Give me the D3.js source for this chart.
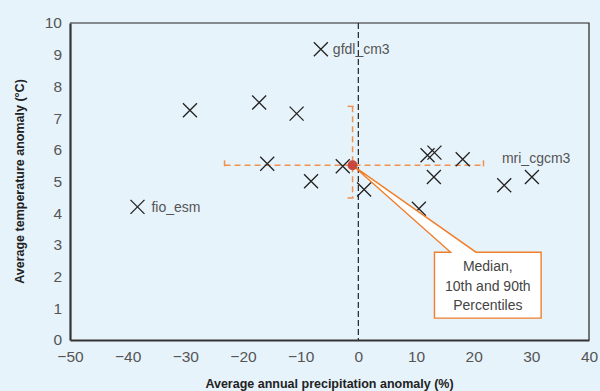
<!DOCTYPE html>
<html>
<head>
<meta charset="utf-8">
<script src="https://cdn.jsdelivr.net/npm/d3@7"></script>
<style>
  html, body { margin: 0; padding: 0; background: #e7f3fb; }
  svg { display: block; font-family: "Liberation Sans", Arial, sans-serif; }
</style>
</head>
<body>
<div id="chart"></div>
<script>
// model results: precipitation anomaly (%) and temperature anomaly (°C)
const precip = [-38.3, -29.2, -17.2, -10.7, -15.8, -8.2, -2.7, 1.0, -6.5, 12.0, 13.2, 13.1, 18.1, 10.5, 25.3, 30.1];
const temp   = [4.20, 7.25, 7.49, 7.14, 5.56, 5.01, 5.48, 4.75, 9.17, 5.83, 5.91, 5.14, 5.70, 4.14, 4.88, 5.14];
const names  = ['fio_esm', '', '', '', '', '', '', '', 'gfdl_cm3', '', '', '', '', '', '', 'mri_cgcm3'];

const median = { precip: -1.0, temp: 5.51 };
const precipRange = [-23.2, 21.7];   // 10th and 90th percentiles
const tempRange = [4.48, 7.37];

const xTicks = [-50, -40, -30, -20, -10, 0, 10, 20, 30, 40];
const yTicks = [0, 1, 2, 3, 4, 5, 6, 7, 8, 9, 10];
const calloutLines = ['Median,', '10th and 90th', 'Percentiles'];

const width = 600;
const height = 391;
const margin = { top: 23, right: 11, bottom: 51, left: 70 };

const points = precip.map((p, i) => ({ precip: p, temp: temp[i], name: names[i] }));

const x = d3.scaleLinear().domain([-50, 40]).range([margin.left, width - margin.right]);
const y = d3.scaleLinear().domain([0, 10]).range([height - margin.bottom, margin.top]);

const svg = d3.select('#chart')
    .append('svg')
    .attr('width', width)
    .attr('height', height);

svg.append('rect')
    .attr('width', width)
    .attr('height', height)
    .attr('fill', '#e7f3fb');

// frame: thin top/right, heavier left/bottom
svg.append('path')
    .attr('d', `M${x(-50)},${y(10)}H${x(40)}V${y(0)}`)
    .attr('fill', 'none')
    .attr('stroke', '#222')
    .attr('stroke-width', 1.2);

// zero precipitation line
svg.append('line')
    .attr('x1', x(0)).attr('x2', x(0))
    .attr('y1', y(10)).attr('y2', y(0))
    .attr('stroke', '#222')
    .attr('stroke-width', 1.2)
    .attr('stroke-dasharray', '6,3');

const xAxis = svg.append('g')
    .attr('transform', `translate(0,${y(0)})`)
    .call(d3.axisBottom(x).tickValues(xTicks).tickSize(0).tickPadding(11)
        .tickFormat(d => d < 0 ? '\u2212' + Math.abs(d) : d));
xAxis.select('.domain').attr('stroke', '#333').attr('stroke-width', 2.2);
xAxis.selectAll('text').attr('font-size', 15.5).attr('fill', '#555')
    .attr('font-family', '"Liberation Sans", Arial, sans-serif');

const yAxis = svg.append('g')
    .attr('transform', `translate(${x(-50)},0)`)
    .call(d3.axisLeft(y).tickValues(yTicks).tickSize(0).tickPadding(8));
yAxis.select('.domain').attr('stroke', '#333').attr('stroke-width', 2.2);
yAxis.selectAll('text').attr('font-size', 15.5).attr('fill', '#555')
    .attr('font-family', '"Liberation Sans", Arial, sans-serif');

// axis titles
svg.append('text')
    .attr('x', (x(-50) + x(40)) / 2)
    .attr('y', 388)
    .attr('text-anchor', 'middle')
    .attr('font-size', 12.5)
    .attr('font-weight', 'bold')
    .attr('fill', '#222')
    .text('Average annual precipitation anomaly (%)');

svg.append('text')
    .attr('transform', `translate(24,${(y(0) + y(10)) / 2}) rotate(-90)`)
    .attr('text-anchor', 'middle')
    .attr('font-size', 12.5)
    .attr('font-weight', 'bold')
    .attr('fill', '#222')
    .text('Average temperature anomaly (\u00B0C)');

// percentile whiskers
const orange = '#f0914f';
const whiskers = svg.append('g')
    .attr('stroke', orange)
    .attr('stroke-width', 1.5)
    .attr('fill', 'none');

whiskers.append('line')
    .attr('x1', x(precipRange[0])).attr('x2', x(precipRange[1]))
    .attr('y1', y(median.temp)).attr('y2', y(median.temp))
    .attr('stroke-dasharray', '6,4');
precipRange.forEach(v => {
    whiskers.append('line')
        .attr('x1', x(v)).attr('x2', x(v))
        .attr('y1', y(median.temp) - 5).attr('y2', y(median.temp) + 1);
});

whiskers.append('line')
    .attr('x1', x(median.precip)).attr('x2', x(median.precip))
    .attr('y1', y(tempRange[1])).attr('y2', y(tempRange[0]))
    .attr('stroke-dasharray', '6,4');
tempRange.forEach(v => {
    whiskers.append('line')
        .attr('x1', x(median.precip) - 5).attr('x2', x(median.precip) + 1)
        .attr('y1', y(v)).attr('y2', y(v));
});

// model crosses
const s = 7;
svg.append('g')
    .selectAll('path')
    .data(points)
    .join('path')
    .attr('d', d => {
        const cx = x(d.precip), cy = y(d.temp);
        return `M${cx - s},${cy - s}L${cx + s},${cy + s}M${cx - s},${cy + s}L${cx + s},${cy - s}`;
    })
    .attr('stroke', '#222')
    .attr('stroke-width', 1.3)
    .attr('fill', 'none');

// model labels
const labelOffsets = {
    fio_esm: [14, 5],
    gfdl_cm3: [12, 5],
    mri_cgcm3: [-30, -14]
};
svg.append('g')
    .selectAll('text')
    .data(points.filter(d => d.name))
    .join('text')
    .attr('x', d => x(d.precip) + labelOffsets[d.name][0])
    .attr('y', d => y(d.temp) + labelOffsets[d.name][1])
    .attr('font-size', 14)
    .attr('fill', '#555')
    .text(d => d.name);

// callout box pointing at the median
const box = { x0: 13.2, x1: 31.7, y0: 2.77, y1: 0.69 };
const bx0 = x(box.x0), bx1 = x(box.x1), by0 = y(box.y0), by1 = y(box.y1);
const px0 = x(16.0), px1 = x(20.4);
const mx = x(median.precip), my = y(median.temp);

svg.append('path')
    .attr('d', `M${bx0},${by0}H${px0}L${mx},${my}L${px1},${by0}H${bx1}V${by1}H${bx0}Z`)
    .attr('fill', '#fff')
    .attr('stroke', '#f07f2c')
    .attr('stroke-width', 1.4)
    .attr('stroke-linejoin', 'miter');

svg.append('circle')
    .attr('cx', mx)
    .attr('cy', my)
    .attr('r', 5)
    .attr('fill', '#c9483e');

svg.append('text')
    .attr('x', (bx0 + bx1) / 2)
    .attr('y', by0 + 19)
    .attr('text-anchor', 'middle')
    .attr('font-size', 14)
    .attr('fill', '#444')
    .selectAll('tspan')
    .data(calloutLines)
    .join('tspan')
    .attr('x', (bx0 + bx1) / 2)
    .attr('dy', (d, i) => i === 0 ? 0 : 19.5)
    .text(d => d);
</script>
</body>
</html>
